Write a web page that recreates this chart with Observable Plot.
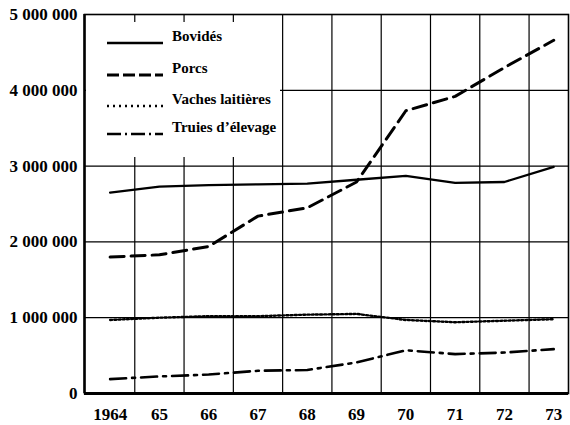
<!DOCTYPE html>
<html><head><meta charset="utf-8">
<script src="https://cdn.jsdelivr.net/npm/d3@7"></script>
<script src="https://cdn.jsdelivr.net/npm/@observablehq/plot@0.6"></script>
<style>body{margin:0;background:#fff} svg{display:block}</style>
</head><body><div id="chart"></div>
<script>
const years = [1964, 1965, 1966, 1967, 1968, 1969, 1970, 1971, 1972, 1973];
const xLabels = ["1964", "65", "66", "67", "68", "69", "70", "71", "72", "73"];
const bovides = [2650000, 2730000, 2750000, 2760000, 2770000, 2820000, 2870000, 2780000, 2790000, 2990000];
const porcs = [1800000, 1830000, 1940000, 2340000, 2450000, 2790000, 3730000, 3920000, 4300000, 4660000];
const vaches = [970000, 1000000, 1020000, 1020000, 1040000, 1050000, 970000, 940000, 960000, 980000];
const truies = [190000, 225000, 250000, 300000, 310000, 410000, 570000, 520000, 540000, 585000];
const yTicks = [0, 1000000, 2000000, 3000000, 4000000, 5000000];
const yLabels = ["0", "1 000 000", "2 000 000", "3 000 000", "4 000 000", "5 000 000"];
const legendNames = ["Bovidés", "Porcs", "Vaches laitières", "Truies d’élevage"];

const styles = [
  {sw: 2.3, dash: null},
  {sw: 3, dash: "14,7"},
  {sw: 2.4, dash: "2,2.2"},
  {sw: 2.6, dash: "16,6,3,6"}
];
const seriesValues = [bovides, porcs, vaches, truies];
const gridX = years.slice(0, -1).map(y => y + 0.5);
const gridY = yTicks.slice(1, -1);
const xDomain = [1963.48, 1973.3];

const lineMarks = seriesValues.map((vals, i) =>
  Plot.line(years.map((y, j) => ({year: y, value: vals[j]})), {
    x: "year", y: "value", stroke: "black", strokeWidth: styles[i].sw,
    strokeDasharray: styles[i].dash, strokeLinejoin: "round"
  })
);

const plot = Plot.plot({
  width: 570, height: 425,
  marginLeft: 84, marginRight: 2, marginTop: 14, marginBottom: 32,
  style: {background: "white", color: "black"},
  x: {domain: xDomain},
  y: {domain: [0, 5000000]},
  marks: [
    Plot.ruleX(gridX, {stroke: "black", strokeWidth: 1.2}),
    Plot.ruleY(gridY, {stroke: "black", strokeWidth: 1.2}),
    Plot.frame({stroke: "black", strokeWidth: 1.6}),
    Plot.ruleX([xDomain[0]], {stroke: "black", strokeWidth: 2.5}),
    Plot.ruleY([0], {stroke: "black", strokeWidth: 3}),
    ...lineMarks,
    Plot.axisY({ticks: yTicks, tickFormat: (d) => yLabels[yTicks.indexOf(d)], tickSize: 0, tickPadding: 7, fontSize: 17, label: null}),
    Plot.axisX({ticks: years, tickFormat: (d) => xLabels[years.indexOf(d)], tickSize: 0, tickPadding: 14, fontSize: 17, label: null})
  ]
});
document.getElementById("chart").appendChild(plot);

const svg = d3.select(plot);
svg.attr("font-family", "Liberation Serif").attr("font-weight", "bold");

// legend box
const lg = svg.append("g");
lg.append("rect").attr("x", 86).attr("y", 22).attr("width", 194).attr("height", 135).attr("fill", "white");
const legendY = [43, 75, 106, 134];
const legendDash = [null, "12,4", "2,4", "14,4,2,4"];
legendNames.forEach((name, i) => {
  lg.append("line").attr("x1", 107).attr("x2", 163).attr("y1", legendY[i]).attr("y2", legendY[i])
    .attr("stroke", "black").attr("stroke-width", styles[i].sw)
    .attr("stroke-dasharray", legendDash[i]);
  lg.append("text").attr("x", 172).attr("y", legendY[i] - 2).text(name)
    .attr("text-anchor", "start").attr("font-size", 15).attr("fill", "black");
});
svg.selectAll("g, text").attr("font-family", "Liberation Serif").attr("font-weight", "bold");
</script>
</body></html>
